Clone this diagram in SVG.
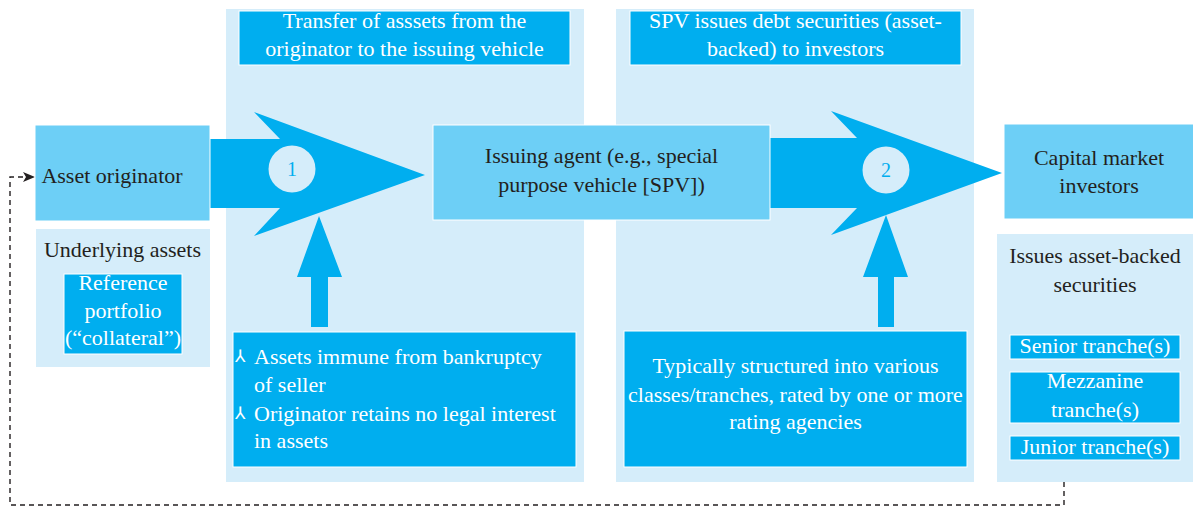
<svg xmlns="http://www.w3.org/2000/svg" width="1193" height="508" viewBox="0 0 1193 508" font-family="Liberation Serif, serif" font-size="22">
<defs>
<style>
.panel{fill:#D5EDFA;}
.mid{fill:#6DCFF6;stroke:#FFFFFF;stroke-width:1;}
.dark{fill:#00AEEF;stroke:#FFFFFF;stroke-width:1;}
.arrow{fill:#00AEEF;}
.circ{fill:#D5EDFA;}
.t{fill:#231F20;text-anchor:middle;}
.w{fill:#FFFFFF;text-anchor:middle;}
.wl{fill:#FFFFFF;}
.num{fill:#00AEEF;text-anchor:middle;}
.bul{fill:#FFFFFF;}
.dash{fill:none;stroke:#231F20;stroke-width:1.4;stroke-dasharray:5 4;}
</style>
<marker id="ah" markerWidth="12" markerHeight="10" refX="11" refY="5" orient="auto" markerUnits="userSpaceOnUse">
<path d="M0,0 L12,5 L0,10 L3,5 Z" fill="#231F20"/>
</marker>
</defs>

<g id="panel-transfer">
<rect class="panel" x="226" y="9" width="358" height="473"/>
<rect class="dark" x="239" y="11" width="331" height="54"/>
<text class="w" x="404.5" y="28">Transfer of asssets from the</text>
<text class="w" x="404.5" y="56">originator to the issuing vehicle</text>
</g>

<g id="panel-issue">
<rect class="panel" x="616" y="9" width="358" height="473"/>
<rect class="dark" x="630" y="11" width="331" height="54"/>
<text class="w" x="795.5" y="28">SPV issues debt securities (asset-</text>
<text class="w" x="795.5" y="56">backed) to investors</text>
</g>

<g id="connectors">
<polygon class="arrow" points="207,139 280,139 254,112 425,175 254,236 280,208 207,208"/>
<polygon class="arrow" points="766,138 857,138 831,111 1002,173 831,235 857,208 766,208"/>
<polygon class="arrow" points="311,327 311,277 297,277 319,216 342,277 328,277 328,327"/>
<polygon class="arrow" points="878,327 878,277 863,277 886,215 908,277 894,277 894,327"/>
<polyline class="dash" points="1064,482 1064,505 10,505 10,177 34,177" marker-end="url(#ah)"/>
</g>

<g id="step1">
<circle class="circ" cx="292" cy="169" r="23.5"/>
<text class="num" x="292" y="176" font-size="20">1</text>
</g>

<g id="step2">
<circle class="circ" cx="886" cy="170" r="23.5"/>
<text class="num" x="886" y="177" font-size="20">2</text>
</g>

<g id="asset-originator">
<rect class="mid" x="35" y="125" width="175" height="96"/>
<text class="t" x="112" y="183">Asset originator</text>
</g>

<g id="underlying-assets">
<rect class="panel" x="36" y="229" width="174" height="138"/>
<text class="t" x="122.5" y="257">Underlying assets</text>
<rect class="dark" x="64" y="274" width="118" height="80"/>
<text class="w" x="123" y="290">Reference</text>
<text class="w" x="123" y="318">portfolio</text>
<text class="w" x="123" y="345">(“collateral”)</text>
</g>

<g id="issuing-agent">
<rect class="mid" x="433" y="125" width="337" height="95"/>
<text class="t" x="601.5" y="163">Issuing agent (e.g., special</text>
<text class="t" x="601.5" y="192">purpose vehicle [SPV])</text>
</g>

<g id="capital-market">
<rect class="mid" x="1004" y="124" width="195" height="95"/>
<text class="t" x="1099" y="165">Capital market</text>
<text class="t" x="1099" y="193">investors</text>
</g>

<g id="bullets-1">
<rect class="dark" x="233" y="332" width="343" height="135"/>
<text class="bul" x="235" y="362" font-family="DejaVu Sans, sans-serif" font-size="17">⅄</text>
<text class="wl" x="254" y="364">Assets immune from bankruptcy</text>
<text class="wl" x="254" y="392">of seller</text>
<text class="bul" x="235" y="419" font-family="DejaVu Sans, sans-serif" font-size="17">⅄</text>
<text class="wl" x="254" y="421">Originator retains no legal interest</text>
<text class="wl" x="254" y="448">in assets</text>
</g>

<g id="bullets-2">
<rect class="dark" x="624" y="331" width="343" height="136"/>
<text class="w" x="795.5" y="373">Typically structured into various</text>
<text class="w" x="795.5" y="402">classes/tranches, rated by one or more</text>
<text class="w" x="795.5" y="429">rating agencies</text>
</g>

<g id="tranches">
<rect class="panel" x="997" y="234" width="200" height="248"/>
<text class="t" x="1095" y="263">Issues asset-backed</text>
<text class="t" x="1095" y="292">securities</text>
<rect class="dark" x="1010" y="335" width="170" height="24"/>
<text class="w" x="1095" y="353">Senior tranche(s)</text>
<rect class="dark" x="1010" y="372" width="170" height="51"/>
<text class="w" x="1095" y="388">Mezzanine</text>
<text class="w" x="1095" y="417">tranche(s)</text>
<rect class="dark" x="1010" y="436" width="170" height="24"/>
<text class="w" x="1095" y="454">Junior tranche(s)</text>
</g>
</svg>
